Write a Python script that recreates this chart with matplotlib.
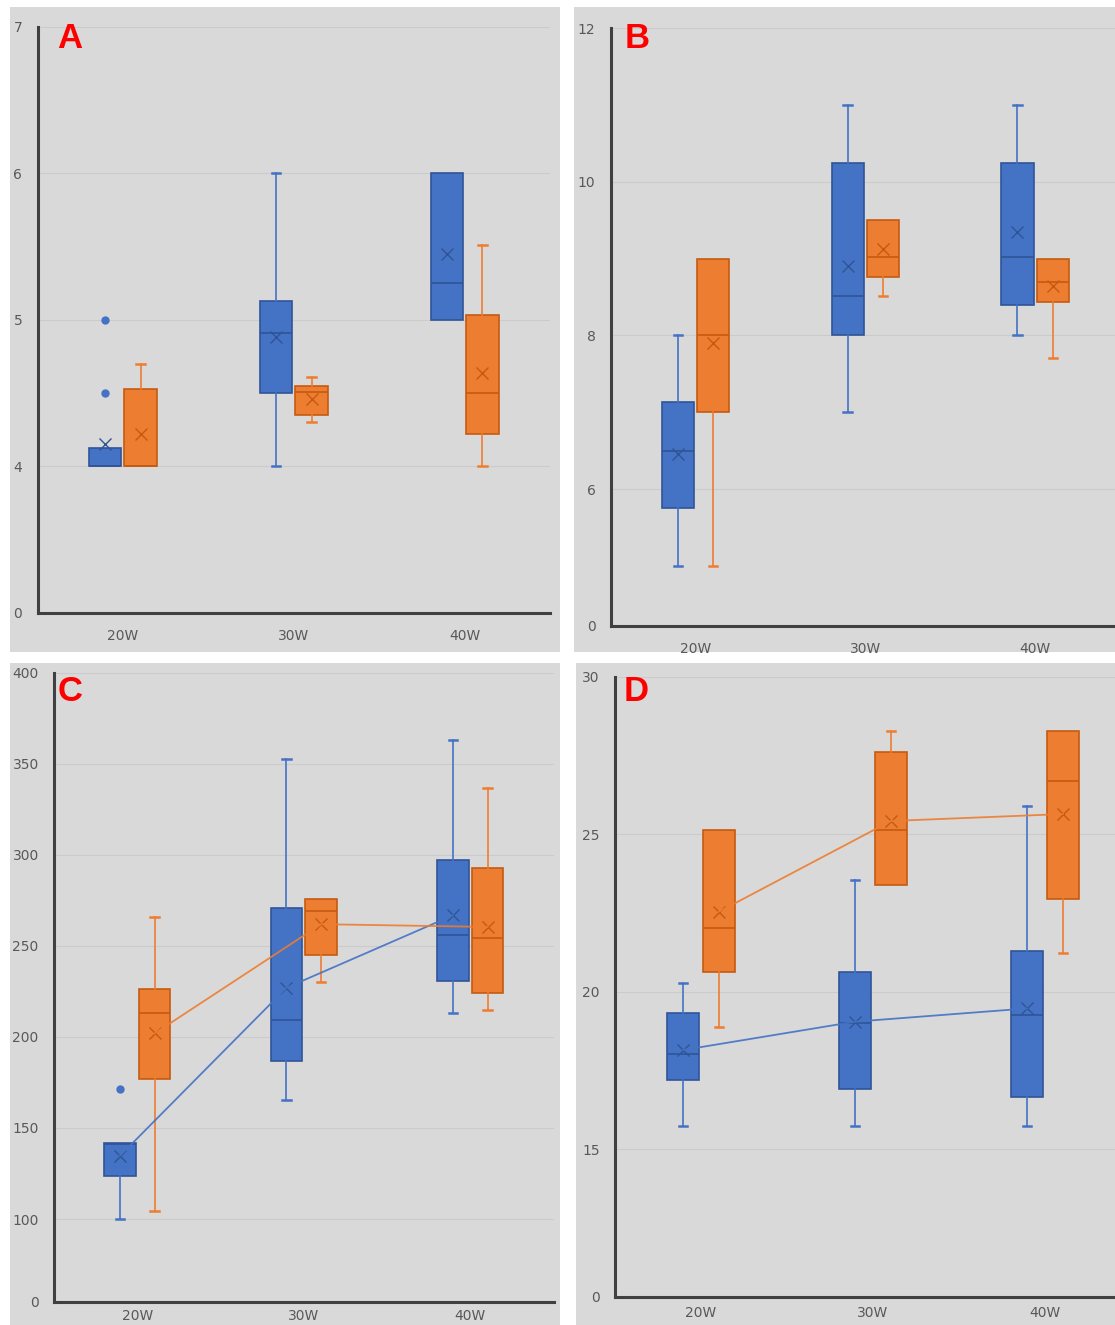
import matplotlib.pyplot as plt
from matplotlib.patches import Rectangle

cats = ['20W', '30W', '40W']

# box rows: (whisker low, Q1, median, Q3, whisker high)
a_blue_box = [(4.0, 4.0, 4.0, 4.125, 4.125), (4.0, 4.5, 4.91, 5.13, 6.0), (5.0, 5.0, 5.25, 6.0, 6.0)]
a_blue_mean = [4.15, 4.88, 5.45]
a_blue_out = [[5.0, 4.5], [], []]
a_orng_box = [(4.0, 4.0, 4.0, 4.53, 4.70), (4.30, 4.35, 4.51, 4.55, 4.61), (4.0, 4.22, 4.5, 5.03, 5.51)]
a_orng_mean = [4.22, 4.46, 4.64]
a_orng_out = [[], [], []]

b_blue_box = [(5.0, 5.75, 6.5, 7.13, 8.0), (7.0, 8.0, 8.52, 10.25, 11.0), (8.0, 8.39, 9.02, 10.25, 11.0)]
b_blue_mean = [6.46, 8.91, 9.35]
b_blue_out = [[], [], []]
b_orng_box = [(5.0, 7.0, 8.0, 9.0, 9.0), (8.52, 8.76, 9.02, 9.5, 9.5), (7.71, 8.43, 8.7, 9.0, 9.0)]
b_orng_mean = [7.9, 9.12, 8.65]
b_orng_out = [[], [], []]

c_blue_box = [(100, 123.6, 141, 141.5, 141.5), (165.3, 186.6, 209.2, 270.9, 352.6), (212.9, 230.6, 255.9, 297, 362.9)]
c_blue_mean = [134.7, 227, 266.8]
c_blue_out = [[171.3], [], []]
c_orng_box = [(104.6, 176.7, 212.9, 226.2, 265.7), (229.9, 245, 269, 276, 276), (215, 223.9, 254.4, 292.8, 336.9)]
c_orng_mean = [201.9, 261.9, 260.4]
c_orng_out = [[], [], []]

d_blue_box = [(15.74, 17.2, 18.01, 19.33, 20.27), (15.74, 16.91, 19.0, 20.62, 23.55), (15.74, 16.65, 19.26, 21.3, 25.9)]
d_blue_mean = [18.15, 19.05, 19.47]
d_blue_out = [[], [], []]
d_orng_box = [(18.89, 20.62, 22.01, 25.13, 25.13), (23.38, 23.38, 25.13, 27.6, 28.28), (21.22, 22.94, 26.69, 28.28, 28.28)]
d_orng_mean = [22.54, 25.42, 25.64]
d_orng_out = [[], [], []]

# y ticks (bottom one is labelled "0" like the source chart)
a_ticks = [4, 5, 6, 7]
b_ticks = [6, 8, 10, 12]
c_ticks = [100, 150, 200, 250, 300, 350, 400]
d_ticks = [15, 20, 25, 30]

W, H = 1115, 1325
BG = '#d9d9d9'
BLUE, BLUE_D = '#4472c4', '#2f5597'
ORNG, ORNG_D = '#ed7d31', '#c55a11'

fig = plt.figure(figsize=(W / 100, H / 100), dpi=100)
fig.patch.set_facecolor('white')


def rect(l, t, r, b):
    return [l / W, 1 - b / H, (r - l) / W, (b - t) / H]


# gray panel backgrounds
for l, t, r, b in [(10, 7, 560, 652), (574, 7, 1130, 652), (10, 663, 560, 1340), (576, 663, 1130, 1340)]:
    x0, y0, w, h = rect(l, t, r, b)
    fig.patches.append(Rectangle((x0, y0), w, h, transform=fig.transFigure,
                                 facecolor=BG, edgecolor='none', zorder=-5))


def draw_boxes(ax, boxes, means, outs, shift, fc, ec, line):
    stats = []
    for (lo, q1, med, q3, hi), m, o in zip(boxes, means, outs):
        stats.append(dict(whislo=lo, q1=q1, med=med, q3=q3, whishi=hi, mean=m, fliers=o))
    pos = [i + shift for i in range(len(boxes))]
    art = ax.bxp(stats, positions=pos, widths=0.19, patch_artist=True, showmeans=True,
                 manage_ticks=False, capwidths=0.05,
                 boxprops=dict(facecolor=fc, edgecolor=ec, linewidth=1.2),
                 medianprops=dict(color=ec, linewidth=1.2),
                 whiskerprops=dict(color=fc, linewidth=1.2),
                 capprops=dict(color=fc, linewidth=1.8),
                 meanprops=dict(marker='x', markeredgecolor=ec, markersize=9, markeredgewidth=1.0),
                 flierprops=dict(marker='o', markerfacecolor=fc, markeredgecolor=fc, markersize=5))
    # no cap where a whisker has zero length
    for i, (lo, q1, med, q3, hi) in enumerate(boxes):
        if lo == q1:
            art['caps'][2 * i].set_visible(False)
        if hi == q3:
            art['caps'][2 * i + 1].set_visible(False)
    if line:
        ax.plot(pos, means, color=fc, linewidth=1.3, zorder=5, alpha=0.9)


def panel(box, letter, ymin, ticks, blue, orng, line=False, letter_xy=(0, 0), xpad=10):
    ax = fig.add_axes(rect(*box))
    ax.patch.set_visible(False)
    draw_boxes(ax, *blue, -0.104, BLUE, BLUE_D, line)
    draw_boxes(ax, *orng, 0.104, ORNG, ORNG_D, line)
    ax.set_xlim(-0.5, 2.5)
    ax.set_ylim(ymin, ticks[-1])
    ax.set_xticks(range(len(cats)))
    ax.set_xticklabels(cats)
    ax.set_yticks([ymin] + ticks)
    ax.set_yticklabels(['0'] + [str(t) for t in ticks])
    for t in ticks:
        ax.axhline(t, color='#cbcbcb', linewidth=0.8, zorder=0)
    for s in ['top', 'right']:
        ax.spines[s].set_visible(False)
    for s in ['left', 'bottom']:
        ax.spines[s].set_color('#404040')
        ax.spines[s].set_linewidth(2.2)
    ax.tick_params(axis='both', length=0, labelsize=10, labelcolor='#595959')
    ax.tick_params(axis='y', pad=11)
    ax.tick_params(axis='x', pad=xpad)
    fig.text(letter_xy[0] / W, 1 - letter_xy[1] / H, letter, color='#ff0000',
             fontsize=25, fontweight='bold', family='Liberation Sans',
             ha='center', va='center')
    return ax


panel((37.5, 27, 550, 612.7), 'A', 3.0, a_ticks,
      (a_blue_box, a_blue_mean, a_blue_out), (a_orng_box, a_orng_mean, a_orng_out),
      letter_xy=(70, 38), xpad=12)
panel((610.7, 28.3, 1120, 625.7), 'B', 4.22, b_ticks,
      (b_blue_box, b_blue_mean, b_blue_out), (b_orng_box, b_orng_mean, b_orng_out),
      letter_xy=(637, 38), xpad=12)
panel((54, 672.7, 553.6, 1301.7), 'C', 54.6, c_ticks,
      (c_blue_box, c_blue_mean, c_blue_out), (c_orng_box, c_orng_mean, c_orng_out),
      line=True, letter_xy=(70, 692), xpad=5)
panel((615, 676.7, 1131, 1296.7), 'D', 10.32, d_ticks,
      (d_blue_box, d_blue_mean, d_blue_out), (d_orng_box, d_orng_mean, d_orng_out),
      line=True, letter_xy=(636, 692), xpad=7)

fig.savefig('out.png', dpi=100)
